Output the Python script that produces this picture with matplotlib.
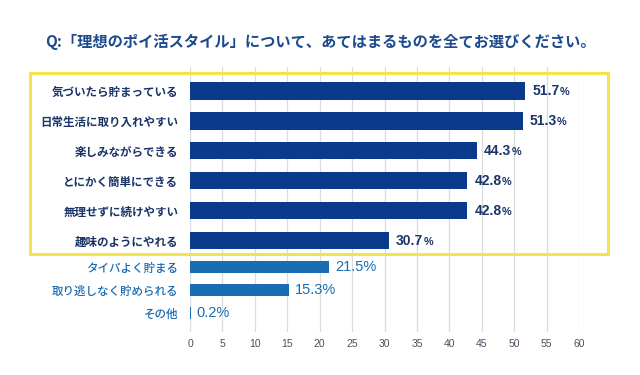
import matplotlib
matplotlib.use("Agg")
import matplotlib.pyplot as plt
from matplotlib.patches import Rectangle

plt.rcParams['font.family'] = ['Noto Sans CJK JP', 'DejaVu Sans']
num_font = ['Liberation Sans', 'Noto Sans CJK JP']

title = "Q:「理想のポイ活スタイル」について、あてはまるものを全てお選びください。"
labels = [
    "気づいたら貯まっている",
    "日常生活に取り入れやすい",
    "楽しみながらできる",
    "とにかく簡単にできる",
    "無理せずに続けやすい",
    "趣味のようにやれる",
    "タイパよく貯まる",
    "取り逃しなく貯められる",
    "その他",
]
values = [51.7, 51.3, 44.3, 42.8, 42.8, 30.7, 21.5, 15.3, 0.2]
highlighted = [True, True, True, True, True, True, False, False, False]
xticks = list(range(0, 61, 5))

navy = "#0b3a8c"
navy_text = "#1b3468"
light_blue = "#1a6cb3"
grid_color = "#dcdcdc"
yellow = "#f4e44c"

# row positions: highlighted rows one unit apart, the rest a bit tighter
positions = []
pos = 0.0
for i, h in enumerate(highlighted):
    if i > 0:
        pos += 1.0 if h else 0.77
        if not h and highlighted[i - 1]:
            pos += 0.1
    positions.append(pos)

fig = plt.figure(figsize=(6.4, 3.75), dpi=100)
ax = fig.add_axes([190 / 640, 1 - 332 / 375, 389 / 640, 265 / 375])

for y, v, h in zip(positions, values, highlighted):
    ax.barh(y, v, height=0.57 if h else 0.39,
            color=navy if h else light_blue, zorder=2)
    if h:
        t = ax.annotate(f"{v:.1f}", xy=(v, y), xytext=(5, 0),
                        textcoords="offset points", ha="left", va="center",
                        fontsize=10, fontweight="bold", color=navy_text,
                        family=num_font)
        # smaller % sign right after the number
        ax.annotate("%", xy=(1, 0.5), xycoords=t, xytext=(0.3, -0.6),
                    textcoords="offset points", ha="left", va="center",
                    fontsize=7.8, fontweight="bold", color=navy_text,
                    family=num_font)
    else:
        ax.annotate(f"{v:.1f}%", xy=(v, y), xytext=(4, 0),
                    textcoords="offset points", ha="left", va="center",
                    fontsize=10.5, color=light_blue, family=num_font)

ax.set_xlim(0, 60)
ax.set_ylim(positions[-1] + 0.63, positions[0] - 0.8)
ax.set_xticks(xticks)
ax.set_xticklabels([str(x) for x in xticks], fontsize=7.5, color="#4a5060",
                   family=num_font)
ax.set_yticks(positions)
ax.set_yticklabels(labels, fontsize=8.3)
for lbl, h in zip(ax.get_yticklabels(), highlighted):
    lbl.set_color(navy_text if h else light_blue)
    lbl.set_fontweight("bold" if h else "medium")
ax.tick_params(axis="both", length=0)
ax.tick_params(axis="y", pad=8.5)
ax.tick_params(axis="x", pad=5)
ax.xaxis.grid(True, color=grid_color, linewidth=0.9, zorder=0)
ax.set_axisbelow(True)
for s in ax.spines.values():
    s.set_visible(False)

fig.text(0.5, 1 - 42 / 375, title, ha="center", va="center",
         fontsize=11, fontweight="bold", color="#1c4a8c")

box = Rectangle((30 / 640, 1 - 254 / 375), 578 / 640, 181 / 375,
                transform=fig.transFigure, fill=False, edgecolor=yellow,
                linewidth=2.2, zorder=10)
fig.patches.append(box)

fig.savefig("out.png", dpi=100)
